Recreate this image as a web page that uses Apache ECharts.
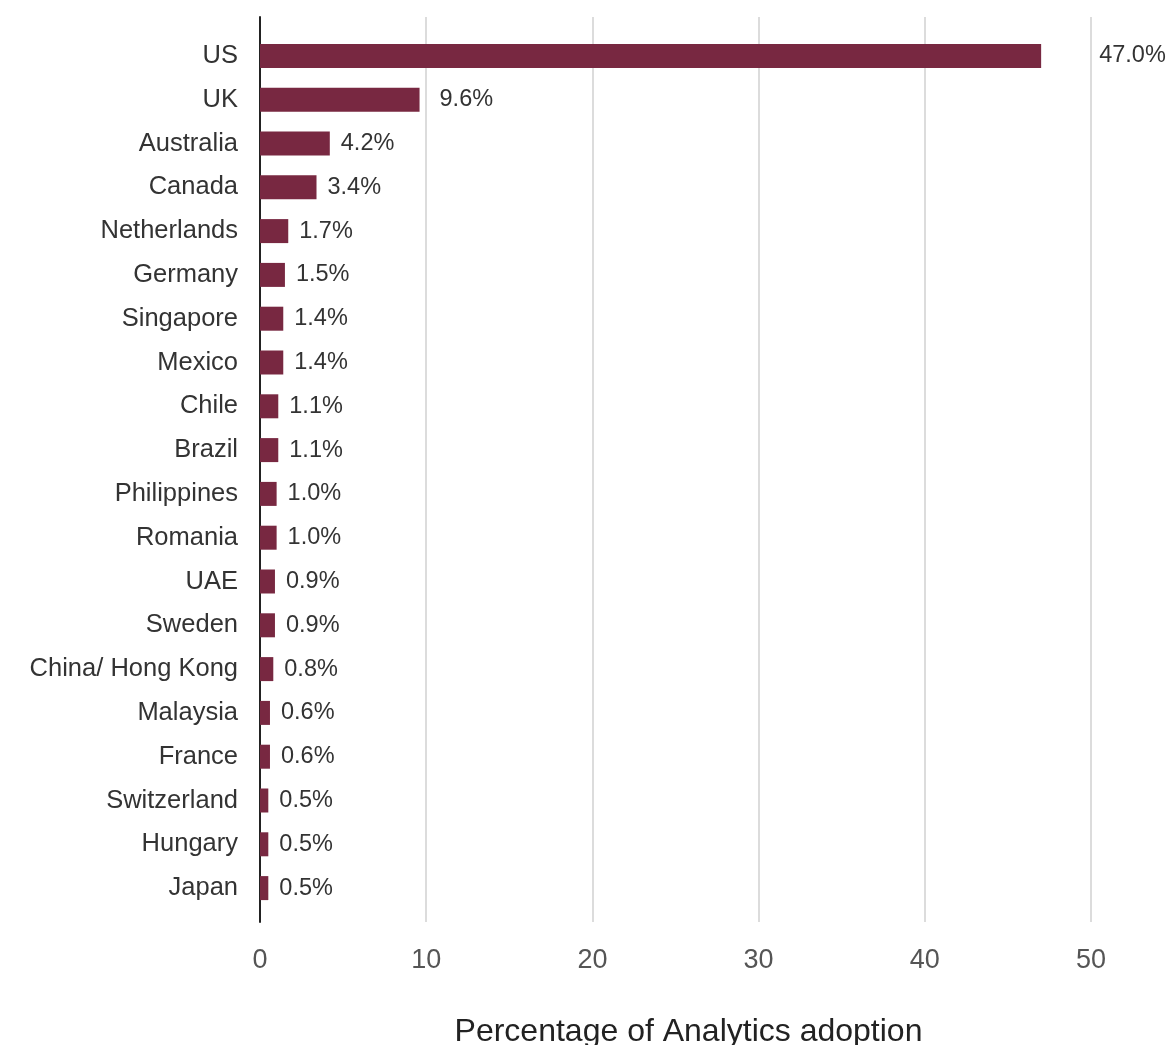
<!DOCTYPE html>
<html>
<head>
<meta charset="utf-8">
<script src="https://cdn.jsdelivr.net/npm/echarts@6/dist/echarts.min.js"></script>
<style>
  html, body { margin: 0; padding: 0; background: #fff; }
  #chart { width: 1170px; height: 1045px; }
</style>
</head>
<body>
<div id="chart"></div>
<script>
// 国家 / 数值
const countries = ['US', 'UK', 'Australia', 'Canada', 'Netherlands', 'Germany', 'Singapore', 'Mexico',
  'Chile', 'Brazil', 'Philippines', 'Romania', 'UAE', 'Sweden', 'China/ Hong Kong', 'Malaysia',
  'France', 'Switzerland', 'Hungary', 'Japan']
const adoption = [47.0, 9.6, 4.2, 3.4, 1.7, 1.5, 1.4, 1.4, 1.1, 1.1, 1.0, 1.0, 0.9, 0.9, 0.8, 0.6, 0.6, 0.5, 0.5, 0.5]
const xTicks = [0, 10, 20, 30, 40, 50]
const axisName = 'Percentage of Analytics adoption'

const FONT = '"Liberation Sans", Arial, sans-serif'
const TEXT = '#333'
const BAR = '#782841'

const chart = echarts.init(document.getElementById('chart'))

// 标签距离：前两项离得远一点
const barData = adoption.map((v, i) => ({
  value: v,
  label: { distance: i === 0 ? 58 : (i === 1 ? 20 : 11) },
}))

const option = {
  animation: false,
  grid: [
    { left: 260, right: 79, top: 17, bottom: 123, outerBoundsMode: 'none', containLabel: false },
    { left: 260, right: 79, top: 34, bottom: 135, outerBoundsMode: 'none', containLabel: false },
  ],
  xAxis: [
    {
      gridIndex: 0,
      type: 'value',
      min: xTicks[0],
      max: xTicks[xTicks.length - 1],
      interval: 10,
      axisLine: { show: false },
      axisTick: { show: false },
      splitLine: { lineStyle: { color: '#d0d0d0', width: 1.5 } },
      axisLabel: { fontFamily: FONT, fontSize: 27, color: '#555', margin: 25 },
      name: axisName,
      nameLocation: 'middle',
      nameGap: 94,
      nameTextStyle: { fontFamily: FONT, fontSize: 32, color: '#222', padding: [0, 0, 0, 26] },
    },
    {
      gridIndex: 1,
      type: 'value',
      min: 0,
      max: 50,
      show: false,
    },
  ],
  yAxis: [
    {
      gridIndex: 0,
      type: 'category',
      data: countries,
      inverse: true,
      axisLine: { lineStyle: { color: '#222', width: 2 } },
      axisTick: { show: false },
      axisLabel: { show: false },
    },
    {
      gridIndex: 1,
      type: 'category',
      data: countries,
      inverse: true,
      axisLine: { show: false },
      axisTick: { show: false },
      axisLabel: { fontFamily: FONT, fontSize: 25.5, color: TEXT, margin: 22 },
    },
  ],
  series: [
    {
      type: 'bar',
      xAxisIndex: 1,
      yAxisIndex: 1,
      data: barData,
      barWidth: 24,
      itemStyle: { color: BAR },
      label: {
        show: true,
        position: 'right',
        fontFamily: FONT,
        fontSize: 23.5,
        color: TEXT,
        formatter: (p) => p.value.toFixed(1) + '%',
      },
    },
  ],
}

chart.setOption(option)
</script>
</body>
</html>
